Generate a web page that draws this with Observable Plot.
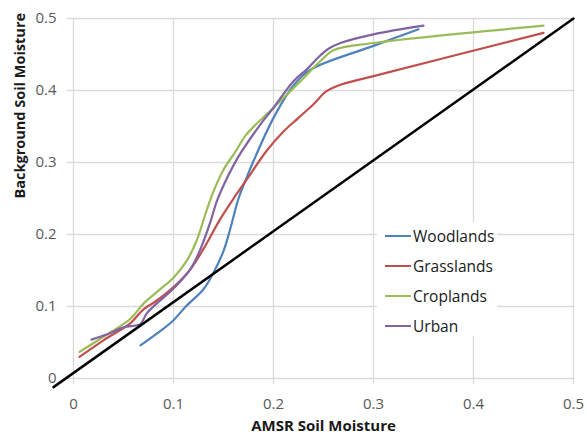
<!DOCTYPE html>
<html>
<head>
<meta charset="utf-8">
<script src="https://cdn.jsdelivr.net/npm/d3@7"></script>
<script src="https://cdn.jsdelivr.net/npm/@observablehq/plot@0.6"></script>
<style>
  html, body { margin: 0; padding: 0; background: #fff; }
  #wrap { position: relative; width: 587px; height: 438px; font-family: "Open Sans", sans-serif; }
  #legend { position: absolute; left: 377px; top: 222px; width: 120px; height: 114px; background: #fff; }
  .row { position: absolute; left: 8px; height: 20px; display: flex; align-items: center; font-size: 15.5px; color: #1a1a1a; }
  .sw { width: 26px; height: 2px; margin-right: 2px; }
</style>
</head>
<body>
<div id="wrap"></div>
<script>
const xTicks = [0, 0.1, 0.2, 0.3, 0.4, 0.5];
const yTicks = [0, 0.1, 0.2, 0.3, 0.4, 0.5];

const seriesNames = ["Woodlands", "Grasslands", "Croplands", "Urban"];
const seriesColors = ["#4F81BD", "#C0504D", "#9BBB59", "#8064A2"];

const woodlandsX = [0.067, 0.087, 0.1, 0.113, 0.13, 0.14, 0.15, 0.157, 0.165, 0.172, 0.18, 0.2, 0.22, 0.237, 0.3, 0.345];
const woodlandsY = [0.046, 0.066, 0.081, 0.101, 0.124, 0.147, 0.177, 0.209, 0.25, 0.275, 0.302, 0.362, 0.407, 0.429, 0.462, 0.485];

const grasslandsX = [0.006, 0.03, 0.057, 0.07, 0.083, 0.1, 0.117, 0.13, 0.147, 0.163, 0.177, 0.193, 0.21, 0.225, 0.24, 0.253, 0.265, 0.3, 0.47];
const grasslandsY = [0.030, 0.053, 0.077, 0.096, 0.108, 0.127, 0.152, 0.18, 0.222, 0.256, 0.284, 0.316, 0.343, 0.362, 0.381, 0.399, 0.407, 0.42, 0.48];

const croplandsX = [0.006, 0.03, 0.057, 0.07, 0.085, 0.1, 0.113, 0.123, 0.133, 0.14, 0.15, 0.162, 0.173, 0.2, 0.227, 0.247, 0.26, 0.3, 0.47];
const croplandsY = [0.037, 0.058, 0.083, 0.104, 0.122, 0.14, 0.163, 0.191, 0.233, 0.26, 0.29, 0.315, 0.339, 0.376, 0.413, 0.441, 0.456, 0.466, 0.49];

const urbanX = [0.018, 0.033, 0.05, 0.067, 0.073, 0.083, 0.1, 0.117, 0.127, 0.137, 0.143, 0.15, 0.16, 0.168, 0.187, 0.2, 0.22, 0.233, 0.247, 0.255, 0.267, 0.3, 0.35];
const urbanY = [0.054, 0.061, 0.071, 0.076, 0.09, 0.104, 0.125, 0.152, 0.18, 0.218, 0.245, 0.268, 0.296, 0.315, 0.353, 0.376, 0.413, 0.429, 0.449, 0.458, 0.466, 0.478, 0.49];

const oneToOneX = [-0.02, 0.5];
const oneToOneY = [-0.012, 0.5];

const xs = [woodlandsX, grasslandsX, croplandsX, urbanX];
const ys = [woodlandsY, grasslandsY, croplandsY, urbanY];
const rows = [];
seriesNames.forEach((name, i) => {
  xs[i].forEach((x, j) => rows.push({series: name, x, y: ys[i][j]}));
});
const diag = oneToOneX.map((x, i) => ({x, y: oneToOneY[i]}));

const grid = "#d9d9d9";
const chart = Plot.plot({
  width: 587,
  height: 438,
  marginLeft: 73,
  marginRight: 14,
  marginTop: 18,
  marginBottom: 60,
  style: {fontFamily: "Open Sans, sans-serif", fontSize: "15px", color: "#595959", background: "#fff"},
  x: {domain: [0, 0.5], label: null},
  y: {domain: [0, 0.5], label: null},
  color: {domain: seriesNames, range: seriesColors},
  marks: [
    Plot.gridX(xTicks, {stroke: grid, strokeOpacity: 1, strokeWidth: 1.3}),
    Plot.gridY(yTicks, {stroke: grid, strokeOpacity: 1, strokeWidth: 1.3}),
    Plot.axisX(xTicks, {tickSize: 6, tickPadding: 14, stroke: grid, strokeWidth: 1.3, fill: "#595959", tickFormat: d => String(d), label: null}),
    Plot.axisY(yTicks, {tickSize: 6, tickPadding: 11, stroke: grid, strokeWidth: 1.3, fill: "#595959", tickFormat: d => String(d), label: null}),
    Plot.line(rows, {x: "x", y: "y", z: "series", stroke: "series", strokeWidth: 2.2, curve: "catmull-rom"}),
    Plot.line(diag, {x: "x", y: "y", stroke: "#000", strokeWidth: 2.5}),
    Plot.text(["AMSR Soil Moisture"], {frameAnchor: "bottom", dy: 52, fontWeight: "bold", fill: "#1a1a1a", fontSize: 15}),
    Plot.text(["Background Soil Moisture"], {frameAnchor: "left", dx: -53, rotate: -90, fontWeight: "bold", fill: "#1a1a1a", fontSize: 14.5})
  ]
});

const wrap = document.getElementById("wrap");
wrap.appendChild(chart);
const legend = document.createElement("div");
legend.id = "legend";
seriesNames.forEach((name, i) => {
  const r = document.createElement("div");
  r.className = "row";
  r.style.top = (4 + i * 30) + "px";
  const sw = document.createElement("div");
  sw.className = "sw";
  sw.style.background = seriesColors[i];
  const t = document.createElement("span");
  t.textContent = name;
  r.appendChild(sw);
  r.appendChild(t);
  legend.appendChild(r);
});
wrap.appendChild(legend);
</script>
</body>
</html>
